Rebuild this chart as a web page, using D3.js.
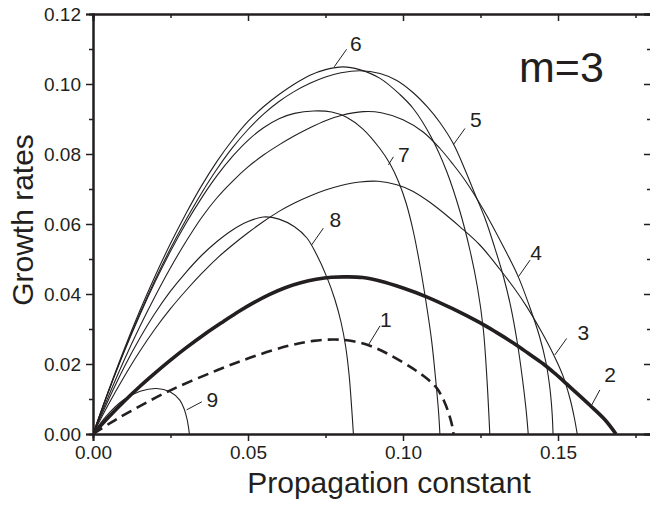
<!DOCTYPE html>
<html>
<head>
<meta charset="utf-8">
<script src="https://cdn.jsdelivr.net/npm/d3@7"></script>
<style>
  html, body { margin: 0; padding: 0; background: #fff; }
  svg { display: block; font-family: "Liberation Sans", Arial, sans-serif; }
</style>
</head>
<body>
<svg id="chart" width="650" height="508"></svg>
<script>
// ---- data (x = propagation constant, y = growth rate) ----
const curve1 = [[0,0],[0.0055,0.0031],[0.0119,0.0064],[0.0248,0.0124],[0.040,0.0182],[0.052,0.0222],[0.0635,0.0253],[0.0711,0.0266],[0.0780,0.0270],[0.0840,0.0265],[0.0900,0.0250],[0.0960,0.0225],[0.1030,0.0188],[0.1075,0.0160],[0.1109,0.0131],[0.1132,0.0095],[0.1150,0.0052],[0.1160,0.0018],[0.1163,0]];
const curve2 = [[0,0],[0.005,0.0048],[0.010,0.0093],[0.015,0.0135],[0.020,0.0174],[0.025,0.0211],[0.030,0.0246],[0.036,0.0285],[0.042,0.0321],[0.047,0.0350],[0.052,0.0376],[0.057,0.0399],[0.062,0.0418],[0.067,0.0432],[0.072,0.0442],[0.077,0.0448],[0.082,0.0449],[0.087,0.0447],[0.0926,0.0437],[0.100,0.0417],[0.1076,0.0392],[0.116,0.0358],[0.1248,0.0318],[0.130,0.0291],[0.1356,0.0260],[0.1405,0.0230],[0.1453,0.0200],[0.1490,0.0173],[0.1528,0.0143],[0.1565,0.0113],[0.1603,0.0082],[0.1650,0.0042],[0.1687,0]];
const curve3 = [[0,0],[0.005,0.0085],[0.010,0.0163],[0.015,0.0235],[0.020,0.0300],[0.025,0.0358],[0.030,0.0410],[0.035,0.0458],[0.040,0.0502],[0.045,0.0540],[0.050,0.0575],[0.055,0.0607],[0.060,0.0636],[0.065,0.0660],[0.070,0.0680],[0.075,0.0697],[0.080,0.0710],[0.0861,0.0720],[0.092,0.0722],[0.098,0.0712],[0.1033,0.0693],[0.109,0.0660],[0.114,0.0625],[0.1184,0.0592],[0.1248,0.0540],[0.1313,0.0470],[0.136,0.0415],[0.1399,0.0364],[0.1445,0.0295],[0.1485,0.0228],[0.1517,0.0164],[0.1539,0.0100],[0.1553,0.0045],[0.1562,0]];
const curve4 = [[0,0],[0.005,0.0108],[0.010,0.0210],[0.015,0.0305],[0.020,0.0393],[0.025,0.0475],[0.030,0.0550],[0.035,0.0618],[0.040,0.0675],[0.045,0.0722],[0.050,0.0763],[0.055,0.0797],[0.060,0.0826],[0.065,0.0852],[0.070,0.0875],[0.075,0.0895],[0.080,0.0910],[0.0872,0.0921],[0.093,0.0918],[0.100,0.0898],[0.1065,0.0863],[0.112,0.0815],[0.1162,0.0770],[0.120,0.0725],[0.126,0.0640],[0.1324,0.0535],[0.1372,0.0449],[0.141,0.0360],[0.144,0.0280],[0.1461,0.0205],[0.1474,0.0130],[0.1481,0.0060],[0.1484,0]];
const curve5 = [[0,0],[0.005,0.0122],[0.010,0.0236],[0.015,0.0342],[0.020,0.0440],[0.025,0.0530],[0.030,0.0612],[0.035,0.0688],[0.040,0.0757],[0.045,0.0818],[0.050,0.0870],[0.055,0.0914],[0.060,0.0950],[0.065,0.0979],[0.070,0.1002],[0.075,0.1020],[0.080,0.1032],[0.0861,0.1038],[0.0926,0.1030],[0.098,0.1010],[0.1033,0.0975],[0.108,0.0933],[0.1119,0.0890],[0.1162,0.0830],[0.120,0.0755],[0.123,0.0690],[0.1265,0.0615],[0.1295,0.0535],[0.1324,0.0450],[0.1348,0.0362],[0.1368,0.0265],[0.1385,0.0160],[0.1397,0.0070],[0.1404,0]];
const curve6 = [[0,0],[0.005,0.0124],[0.010,0.0241],[0.015,0.0350],[0.020,0.0451],[0.025,0.0544],[0.030,0.0630],[0.035,0.0709],[0.040,0.0779],[0.045,0.0840],[0.050,0.0893],[0.055,0.0935],[0.060,0.0970],[0.065,0.1000],[0.070,0.1025],[0.075,0.1041],[0.0807,0.1049],[0.086,0.1041],[0.0926,0.1016],[0.099,0.0970],[0.1033,0.0930],[0.109,0.0850],[0.1141,0.0750],[0.1184,0.0635],[0.1216,0.0525],[0.124,0.0420],[0.1259,0.0300],[0.1271,0.0154],[0.1280,0]];
const curve7 = [[0,0],[0.005,0.0121],[0.010,0.0234],[0.015,0.0338],[0.020,0.0434],[0.025,0.0522],[0.030,0.0602],[0.035,0.0674],[0.040,0.0738],[0.045,0.0793],[0.050,0.0839],[0.055,0.0875],[0.060,0.0901],[0.065,0.0916],[0.0711,0.0923],[0.077,0.0920],[0.0818,0.0905],[0.087,0.0872],[0.0926,0.0815],[0.0958,0.0772],[0.0985,0.0722],[0.101,0.0660],[0.1033,0.0580],[0.1053,0.0490],[0.1072,0.0390],[0.1092,0.0269],[0.1106,0.0150],[0.1115,0.0060],[0.1119,0]];
const curve8 = [[0,0],[0.005,0.0098],[0.010,0.0190],[0.015,0.0272],[0.020,0.0345],[0.025,0.0408],[0.030,0.0462],[0.035,0.0510],[0.040,0.0550],[0.045,0.0583],[0.050,0.0607],[0.0549,0.0620],[0.060,0.0614],[0.065,0.0592],[0.069,0.0560],[0.072,0.0515],[0.0754,0.0449],[0.078,0.0385],[0.080,0.0320],[0.0815,0.0250],[0.0826,0.0170],[0.0834,0.0080],[0.0840,0]];
const curve9 = [[0,0],[0.004,0.0048],[0.0098,0.0097],[0.0152,0.0122],[0.0205,0.0130],[0.0248,0.0121],[0.0280,0.0097],[0.0295,0.0069],[0.0304,0.0040],[0.0311,0]];

const xTicks = [0, 0.05, 0.10, 0.15];
const xMinorTicks = [0.025, 0.075, 0.125, 0.175];
const yTicks = [0, 0.02, 0.04, 0.06, 0.08, 0.10, 0.12];
const yMinorTicks = [0.01, 0.03, 0.05, 0.07, 0.09, 0.11];

// curve number labels: text position and leader line (data units)
const labelText = ["1","2","3","4","5","6","7","8","9"];
const labelPos  = [[0.0945,0.0307],[0.1668,0.0149],[0.1582,0.0269],[0.1429,0.0497],[0.1235,0.0878],[0.0848,0.1095],[0.1003,0.0777],[0.0782,0.0592],[0.0385,0.0078]];
const leaderFrom = [[0.0926,0.0309],[0.1635,0.0126],[0.1528,0.0273],[0.1410,0.0497],[0.1200,0.0873],[0.0818,0.1099],[0.0969,0.0792],[0.0743,0.0588],[0.0351,0.0092]];
const leaderTo   = [[0.0888,0.0254],[0.1609,0.0083],[0.1490,0.0226],[0.1372,0.0449],[0.1162,0.0826],[0.0778,0.1049],[0.0953,0.0769],[0.0705,0.0540],[0.0302,0.0069]];

const title = "m=3";
const titlePos = [0.1511, 0.1006];

// ---- drawing ----
const svg = d3.select("#chart");
const ink = "#231f20";
const mL = 93, mR = 651, mT = 14, mB = 434;
const x = d3.scaleLinear().domain([0, 0.18]).range([mL, mR]);
const y = d3.scaleLinear().domain([0, 0.12]).range([mB, mT]);

svg.append("rect").attr("width", 650).attr("height", 508).attr("fill", "#fff");

const clip = svg.append("defs").append("clipPath").attr("id", "plotclip");
clip.append("rect").attr("x", mL).attr("y", mT - 2).attr("width", mR - mL).attr("height", mB - mT + 2);

const line = d3.line().x(d => x(d[0])).y(d => y(d[1])).curve(d3.curveCatmullRom.alpha(0.5));

const series = [
  {d: curve9, w: 1.1, dash: null},
  {d: curve8, w: 1.1, dash: null},
  {d: curve7, w: 1.1, dash: null},
  {d: curve6, w: 1.1, dash: null},
  {d: curve5, w: 1.1, dash: null},
  {d: curve4, w: 1.1, dash: null},
  {d: curve3, w: 1.1, dash: null},
  {d: curve1, w: 2.6, dash: "11,6"},
  {d: curve2, w: 3.6, dash: null}
];
const g = svg.append("g").attr("clip-path", "url(#plotclip)");
series.forEach(s => {
  g.append("path").datum(s.d).attr("d", line)
    .attr("fill", "none").attr("stroke", ink).attr("stroke-width", s.w)
    .attr("stroke-dasharray", s.dash).attr("stroke-linejoin", "round");
});

// axes
const fmt = d3.format(".2f");
const axB = svg.append("g").attr("transform", `translate(0,${mB})`)
  .call(d3.axisBottom(x).tickValues(xTicks).tickFormat(fmt).tickSize(7).tickPadding(5));
const axBm = svg.append("g").attr("transform", `translate(0,${mB})`)
  .call(d3.axisBottom(x).tickValues(xMinorTicks).tickFormat("").tickSize(4));
const axL = svg.append("g").attr("transform", `translate(${mL},0)`)
  .call(d3.axisLeft(y).tickValues(yTicks).tickFormat(fmt).tickSize(7).tickPadding(5));
const axLm = svg.append("g").attr("transform", `translate(${mL},0)`)
  .call(d3.axisLeft(y).tickValues(yMinorTicks).tickFormat("").tickSize(4));
const axT = svg.append("g").attr("transform", `translate(0,${mT})`)
  .call(d3.axisTop(x).tickValues(xTicks).tickFormat("").tickSize(-7));
const axTm = svg.append("g").attr("transform", `translate(0,${mT})`)
  .call(d3.axisTop(x).tickValues(xMinorTicks).tickFormat("").tickSize(-4));
const axR = svg.append("g").attr("transform", `translate(${mR},0)`)
  .call(d3.axisRight(y).tickValues(yTicks).tickFormat("").tickSize(-7));
const axRm = svg.append("g").attr("transform", `translate(${mR},0)`)
  .call(d3.axisRight(y).tickValues(yMinorTicks).tickFormat("").tickSize(-4));

[axB, axBm, axL, axLm, axT, axTm, axR, axRm].forEach(a => {
  a.selectAll(".domain").attr("stroke", ink).attr("stroke-width", 2);
  a.selectAll(".tick line").attr("stroke", ink).attr("stroke-width", 1.5);
  a.selectAll("text").attr("fill", ink).style("font-size", "19px")
    .style("font-family", '"Liberation Sans", Arial, sans-serif');
});

// axis titles
svg.append("text").attr("x", 389).attr("y", 493)
  .attr("text-anchor", "middle").attr("fill", ink).style("font-size", "30px")
  .text("Propagation constant");
svg.append("text").attr("transform", `translate(33,220) rotate(-90)`)
  .attr("text-anchor", "middle").attr("fill", ink).style("font-size", "30px")
  .text("Growth rates");

// title
svg.append("text").attr("x", x(titlePos[0])).attr("y", y(titlePos[1]))
  .attr("text-anchor", "middle").attr("fill", ink).style("font-size", "43px")
  .text(title);

// curve labels
labelText.forEach((t, i) => {
  svg.append("line")
    .attr("x1", x(leaderFrom[i][0])).attr("y1", y(leaderFrom[i][1]))
    .attr("x2", x(leaderTo[i][0])).attr("y2", y(leaderTo[i][1]))
    .attr("stroke", ink).attr("stroke-width", 1);
  svg.append("text").attr("x", x(labelPos[i][0])).attr("y", y(labelPos[i][1]))
    .attr("text-anchor", "middle").attr("fill", ink).style("font-size", "21px")
    .text(t);
});
</script>
</body>
</html>
